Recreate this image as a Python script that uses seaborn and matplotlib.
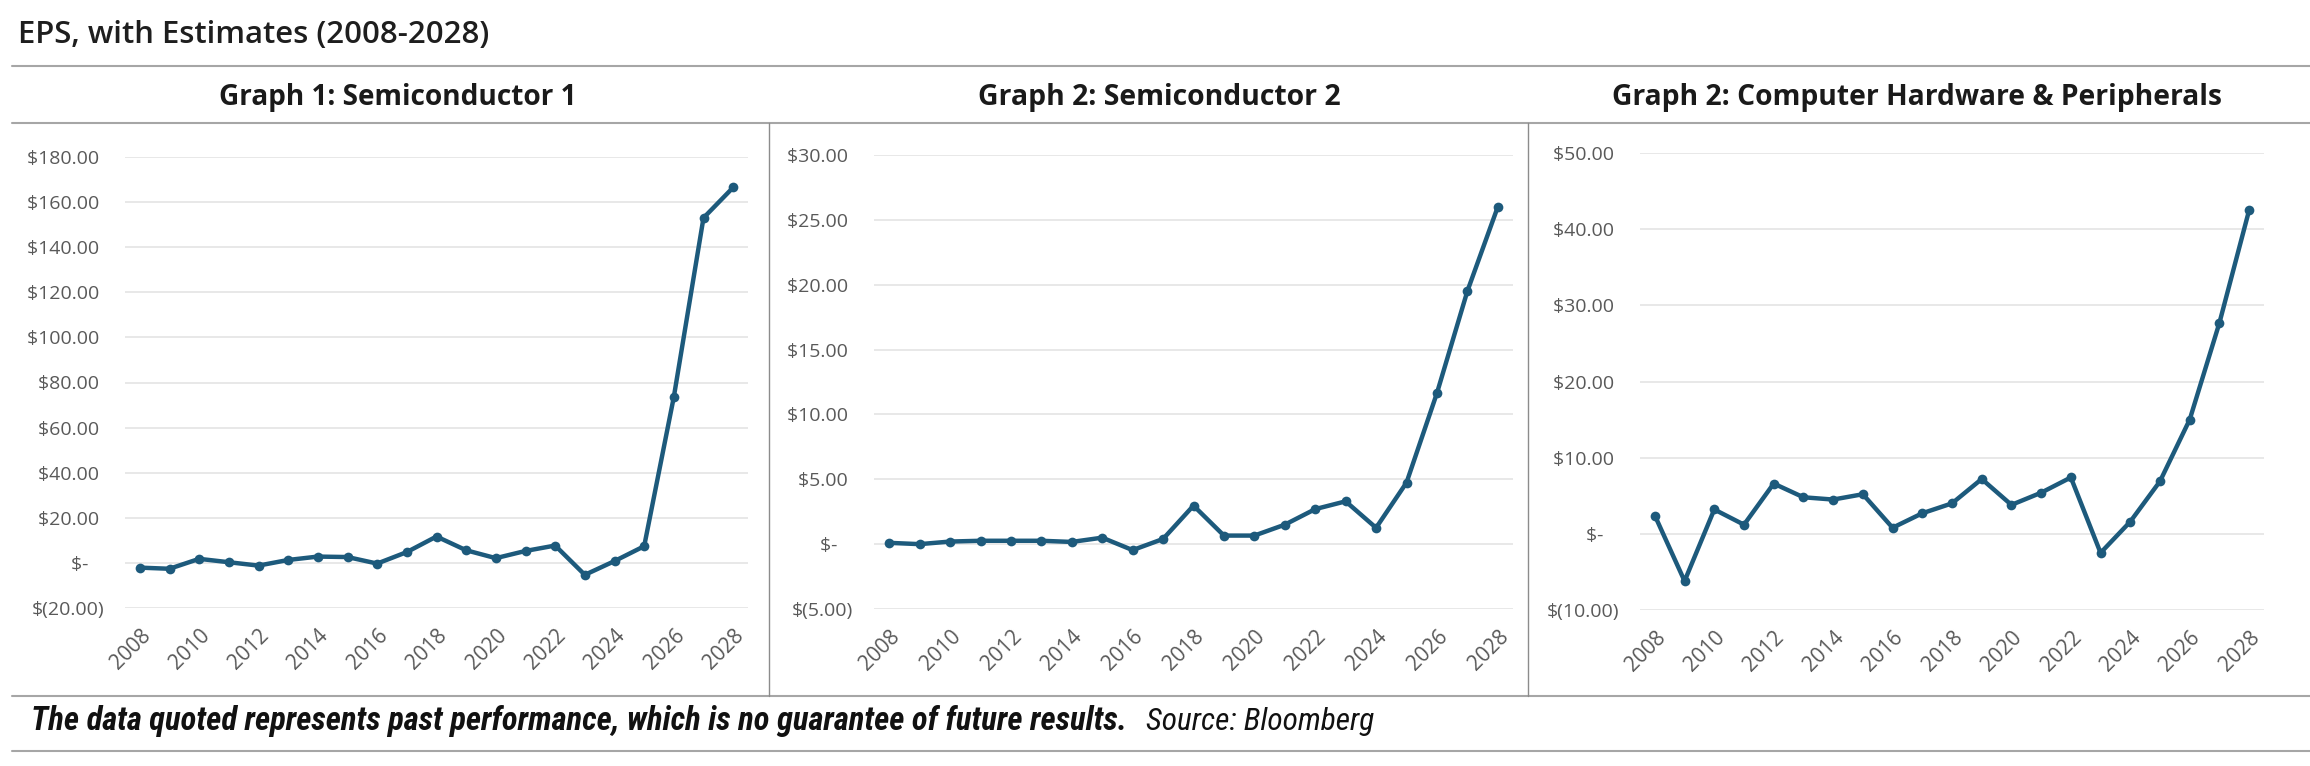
import matplotlib
matplotlib.use("Agg")
import matplotlib.pyplot as plt
from matplotlib.lines import Line2D
from matplotlib import font_manager as fm
import seaborn as sns
import pandas as pd

# ---------------- data ----------------
years = list(range(2008, 2029))
semi1_eps = [-2.1, -2.6, 1.8, 0.3, -1.2, 1.3, 2.8, 2.6, -0.3, 4.8, 11.7,
             5.6, 2.1, 5.3, 7.7, -5.3, 0.8, 7.4, 73.6, 153.0, 166.5]
semi2_eps = [0.1, 0.0, 0.2, 0.26, 0.26, 0.26, 0.17, 0.5, -0.46, 0.4, 2.97,
             0.66, 0.66, 1.5, 2.7, 3.3, 1.26, 4.74, 11.64, 19.5, 26.0]
hw_eps = [2.4, -6.2, 3.2, 1.2, 6.6, 4.8, 4.5, 5.2, 0.8, 2.7, 4.0,
          7.2, 3.8, 5.4, 7.4, -2.5, 1.6, 6.9, 15.0, 27.7, 42.5]
panel_titles = ["Graph 1: Semiconductor 1", "Graph 2: Semiconductor 2",
                "Graph 2: Computer Hardware & Peripherals"]
semi1_yticks = [-20, 0, 20, 40, 60, 80, 100, 120, 140, 160, 180]
semi2_yticks = [-5, 0, 5, 10, 15, 20, 25, 30]
hw_yticks = [-10, 0, 10, 20, 30, 40, 50]
xticks = list(range(2008, 2029, 2))
chart_title = "EPS, with Estimates (2008-2028)"
footer_bold = "The data quoted represents past performance, which is no guarantee of future results."
footer_src = "Source: Bloomberg"

# ---------------- style ----------------
sns.set_theme(style="white")
plt.rcParams["font.family"] = ["Open Sans", "DejaVu Sans"]
LINE = "#1d5a7c"
TICK = "#595959"
GRID = "#e2e2e2"
RULE = "#a6a6a6"

W, H = 2310, 766
fig = plt.figure(figsize=(W / 100, H / 100), dpi=100)
renderer = fig.canvas.get_renderer()


def fit(txt, target_w):
    w = txt.get_window_extent(renderer).width
    txt.set_fontsize(txt.get_fontsize() * target_w / w)


def money(v, pos=None):
    if abs(v) < 1e-9:
        return "$-   "
    if v < 0:
        return "$({:,.2f})".format(-v)
    return "${:,.2f} ".format(v)


# axes boxes in pixels: left, top, right, bottom
boxes = [(125, 157, 748, 608), (874, 155, 1513, 609), (1640, 153, 2264, 610)]
series = [semi1_eps, semi2_eps, hw_eps]
ytick_sets = [semi1_yticks, semi2_yticks, hw_yticks]

for (l, t, r, b), vals, yt in zip(boxes, series, ytick_sets):
    ax = fig.add_axes([l / W, 1 - b / H, (r - l) / W, (b - t) / H])
    df = pd.DataFrame({"year": years, "eps": vals})
    sns.lineplot(data=df, x="year", y="eps", ax=ax, color=LINE, linewidth=3.2,
                 marker="o", markersize=7, markeredgewidth=0, clip_on=False,
                 zorder=5)
    ax.set_xlim(2007.5, 2028.5)
    ax.set_ylim(yt[0], yt[-1])
    ax.set_yticks(yt)
    ax.set_xticks(xticks)
    ax.yaxis.set_major_formatter(matplotlib.ticker.FuncFormatter(money))
    ax.set_xlabel("")
    ax.set_ylabel("")
    ax.grid(axis="y", color=GRID, linewidth=1.1)
    ax.grid(axis="x", visible=False)
    ax.set_axisbelow(True)
    for s in ax.spines.values():
        s.set_visible(False)
    ax.tick_params(axis="y", length=0, pad=15, labelsize=14, labelcolor=TICK)
    ax.tick_params(axis="x", length=0, pad=12, labelsize=15, labelcolor=TICK)
    for lbl in ax.get_xticklabels():
        lbl.set_rotation(45)
        lbl.set_ha("right")
        lbl.set_va("top")
        lbl.set_rotation_mode("anchor")

# ---------------- frame rules ----------------
for y in (66, 123, 696, 751):
    fig.add_artist(Line2D([12 / W, 1.0], [1 - y / H] * 2, color=RULE, linewidth=1.5))
for x in (769, 1528):
    fig.add_artist(Line2D([x / W] * 2, [1 - 123 / H, 1 - 696 / H], color="#8c8c8c",
                          linewidth=1.0))

# ---------------- titles ----------------
t = fig.text(18 / W, 1 - 43 / H, chart_title, fontsize=22, color="#1e1e1e",
             fontweight="semibold", ha="left", va="baseline")
fit(t, 470)

sub_cx = [398, 1159, 1917]
sub_w = [360, 364, 611]
for title, cx, tw in zip(panel_titles, sub_cx, sub_w):
    st = fig.text(cx / W, 1 - 105 / H, title, fontsize=18, fontweight="bold",
                  color="#1a1a1a", ha="center", va="baseline")
    fit(st, tw)

# ---------------- footer ----------------
names = {f.name for f in fm.fontManager.ttflist}
narrow = "Liberation Sans"
for cand in ["Liberation Sans Narrow", "Arial Narrow", "Roboto Condensed",
             "Open Sans Condensed", "DejaVu Sans Condensed"]:
    if cand in names:
        narrow = cand
        break
fb = fig.text(31 / W, 1 - 730 / H, footer_bold, family=[narrow, "DejaVu Sans"],
              fontsize=18, fontweight="bold", fontstyle="italic", color="#111111",
              ha="left", va="baseline")
fit(fb, 1096)
fs = fig.text(1146 / W, 1 - 730 / H, footer_src, family=[narrow, "DejaVu Sans"],
              fontsize=18, fontstyle="italic", color="#111111",
              ha="left", va="baseline")
fit(fs, 229)

fig.savefig("out.png", dpi=100, facecolor="white")
